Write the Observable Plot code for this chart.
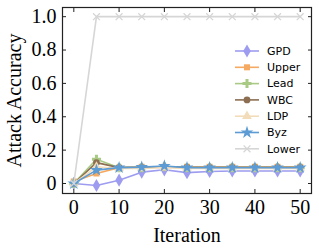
<!DOCTYPE html>
<html>
<head>
<meta charset="utf-8">
<script src="https://cdn.jsdelivr.net/npm/d3@7"></script>
<script src="https://cdn.jsdelivr.net/npm/@observablehq/plot@0.6"></script>
<style>
  html, body { margin: 0; padding: 0; background: #fff; }
</style>
</head>
<body>
<div id="chart"></div>
<script>
const iterations = [0, 5, 10, 15, 20, 25, 30, 35, 40, 45, 50];
const seriesNames = ["GPD", "Upper", "Lead", "WBC", "LDP", "Byz", "Lower"];
const gpd   = [0, -0.012, 0.02, 0.068, 0.082, 0.065, 0.072, 0.075, 0.075, 0.075, 0.075];
const upper = [0.012, 0.06, 0.095, 0.1, 0.1, 0.1, 0.1, 0.1, 0.1, 0.1, 0.1];
const lead  = [0, 0.145, 0.095, 0.095, 0.1, 0.095, 0.095, 0.095, 0.095, 0.095, 0.095];
const wbc   = [0, 0.125, 0.095, 0.095, 0.1, 0.095, 0.095, 0.095, 0.095, 0.095, 0.095];
const ldp   = [0, 0.1, 0.09, 0.09, 0.095, 0.09, 0.09, 0.09, 0.09, 0.09, 0.09];
const byz   = [0, 0.08, 0.095, 0.098, 0.105, 0.095, 0.095, 0.095, 0.095, 0.095, 0.095];
const lower = [0, 1, 1, 1, 1, 1, 1, 1, 1, 1, 1];
const xTicks = [0, 10, 20, 30, 40, 50];
const yTicks = [0, 0.2, 0.4, 0.6, 0.8, 1.0];

const seriesValues = [gpd, upper, lead, wbc, ldp, byz, lower];
const colors = ["#9d9cf0", "#f6a960", "#a8ca84", "#8c6f52", "#f3dcb9", "#5c9bd3", "#d6d6d6"];
const symbols = ["diamond", "square", "cross", "circle", "triangle", "star", "times"];
const symbolD3 = [d3.symbolDiamond, d3.symbolSquare, d3.symbolCross, d3.symbolCircle, d3.symbolTriangle, d3.symbolStar, d3.symbolTimes];
const radii = [4.0, 3.4, 3.8, 3.4, 3.6, 4.0, 3.2];

const marks = [];
seriesNames.forEach((name, i) => {
  const data = iterations.map((x, j) => ({x, y: seriesValues[i][j]}));
  marks.push(Plot.line(data, {x: "x", y: "y", stroke: colors[i], strokeWidth: 1.6}));
  if (symbols[i] === "times") {
    marks.push(Plot.dot(data, {x: "x", y: "y", symbol: symbols[i], stroke: colors[i], strokeWidth: 1.3, r: radii[i]}));
  } else {
    marks.push(Plot.dot(data, {x: "x", y: "y", symbol: symbols[i], fill: colors[i], stroke: "none", r: radii[i]}));
  }
});

const fmtY = d => d === 0 ? "0" : d.toFixed(1);

const plot = Plot.plot({
  width: 319,
  height: 248,
  marginLeft: 62,
  marginRight: 8,
  marginTop: 7,
  marginBottom: 55,
  style: {fontFamily: "'Liberation Serif', 'Times New Roman', serif", fontSize: "20px", color: "#000", background: "#fff"},
  x: {domain: [-2.5, 52.5]},
  y: {domain: [-0.06, 1.055]},
  marks: [
    ...marks,
    Plot.frame({stroke: "#222", strokeWidth: 1.2}),
    Plot.axisX(xTicks, {anchor: "bottom", tickSize: 0, tickPadding: 6, tickFormat: d => String(d), fontSize: 20, label: "Iteration", labelAnchor: "center", labelOffset: 48, labelArrow: "none"}),
    Plot.axisY(yTicks, {anchor: "left", tickSize: 0, tickPadding: 6, tickFormat: fmtY, fontSize: 20, label: "Attack Accuracy", labelAnchor: "center", labelOffset: 56, labelArrow: "none"}),
    Plot.axisX(xTicks, {anchor: "bottom", tickSize: -4, text: null, label: null, stroke: "#222"}),
    Plot.axisX(xTicks, {anchor: "top", tickSize: -4, text: null, label: null, stroke: "#222"}),
    Plot.axisY(yTicks, {anchor: "left", tickSize: -4, text: null, label: null, stroke: "#222"}),
    Plot.axisY(yTicks, {anchor: "right", tickSize: -4, text: null, label: null, stroke: "#222"})
  ]
});

// Legend drawn inside the plot area
const svg = d3.select(plot);
const leg = svg.append("g")
  .attr("font-family", "'DejaVu Sans', sans-serif")
  .attr("font-size", 11)
  .attr("text-anchor", "start");
const y0 = 51, dyRow = 16.3, xl1 = 235, xl2 = 259, xm = 247, xt = 267;
seriesNames.forEach((name, i) => {
  const yy = y0 + i * dyRow;
  leg.append("line").attr("x1", xl1).attr("x2", xl2).attr("y1", yy).attr("y2", yy)
    .attr("stroke", colors[i]).attr("stroke-width", 1.6);
  const path = d3.symbol(symbolD3[i], Math.PI * radii[i] * radii[i])();
  const p = leg.append("path").attr("d", path).attr("transform", `translate(${xm},${yy})`);
  if (symbols[i] === "times") p.attr("fill", "none").attr("stroke", colors[i]).attr("stroke-width", 1.3);
  else p.attr("fill", colors[i]);
  leg.append("text").attr("x", xt).attr("y", yy).attr("dy", "0.35em").attr("fill", "#000")
    .attr("text-anchor", "start").text(name);
});

document.getElementById("chart").appendChild(plot);
</script>
</body>
</html>
